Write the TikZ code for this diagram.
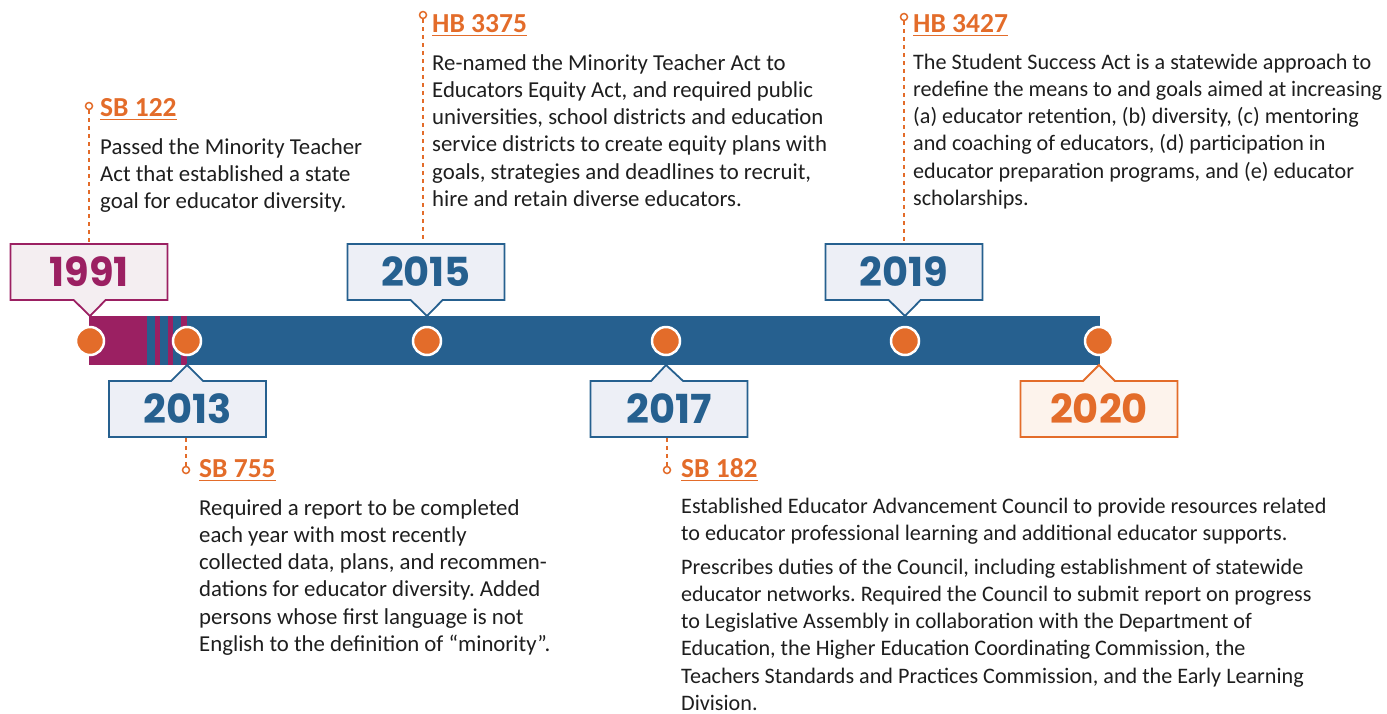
\documentclass[tikz,border=0pt]{standalone}
\usepackage{fontspec}
\setmainfont{Carlito}
\newfontfamily\yearfont{Poppins}
\usetikzlibrary{shapes.callouts}
\definecolor{tlorange}{RGB}{227,108,42}
\definecolor{tlmagenta}{RGB}{155,32,98}
\definecolor{tlblue}{RGB}{38,96,143}
\definecolor{tltext}{RGB}{30,30,30}
\definecolor{boxblue}{RGB}{237,239,246}
\definecolor{boxmagenta}{RGB}{244,238,241}
\definecolor{boxorange}{RGB}{253,243,236}
\frenchspacing

\begin{document}
\begin{tikzpicture}[x=1pt, y=-1pt,
    bodytext/.style={anchor=base west, align=left, inner sep=0pt, text=tltext,
        font=\fontsize{22.8}{27.3}\selectfont},
    narrowtext/.style={bodytext, font=\fontsize{22.15}{27.3}\selectfont},
    billlabel/.style={anchor=base west, inner sep=0pt, text=tlorange,
        font=\fontsize{27.5}{30}\selectfont\bfseries},
    billmark/.style={circle, draw=tlorange, fill=white, line width=1.5pt,
        inner sep=0pt, minimum size=7pt},
    leader/.style={draw=tlorange, line width=2.2pt, dash pattern=on 4pt off 4pt},
    yeardot/.style={circle, fill=tlorange, draw=white, line width=2.5pt,
        minimum size=28pt, inner sep=0pt},
    yearbox/.style={rectangle callout, line width=1.8pt, minimum width=157pt,
        minimum height=56pt, callout pointer width=32pt, inner sep=0pt,
        font=\fontsize{40}{40}\yearfont\bfseries}
]
    \useasboundingbox (0,0) rectangle (1387,713);

    \fill[tlblue] (89,316) rectangle (1100,365);
    \fill[tlmagenta] (89,316) rectangle (147.3,365);
    \foreach \a/\b in {155/160, 167.7/172.7, 181/186.7}
        \fill[tlmagenta] (\a,316) rectangle (\b,365);

    \foreach \x/\n in {90/1991, 187/2013, 427/2015, 666/2017, 905/2019, 1099/2020}
        \node[yeardot] (d\n) at (\x,341) {};

    \node[yearbox, draw=tlmagenta, fill=boxmagenta, text=tlmagenta,
        callout absolute pointer={(90,316)}] (c1991) at (89,272) {1991};
    \node[yearbox, draw=tlblue, fill=boxblue, text=tlblue,
        callout absolute pointer={(187,365)}] (c2013) at (187.5,409) {2013};
    \node[yearbox, draw=tlblue, fill=boxblue, text=tlblue,
        callout absolute pointer={(427,316)}] (c2015) at (426,272) {2015};
    \node[yearbox, draw=tlblue, fill=boxblue, text=tlblue,
        callout absolute pointer={(666,365)}] (c2017) at (669,409) {2017};
    \node[yearbox, draw=tlblue, fill=boxblue, text=tlblue,
        callout absolute pointer={(905,316)}] (c2019) at (904,272) {2019};
    \node[yearbox, draw=tlorange, fill=boxorange, text=tlorange,
        callout absolute pointer={(1099,365)}] (c2020) at (1099,409) {2020};

    \node[billmark] (m122) at (89,106) {};
    \node[billmark] (m3375) at (423,15) {};
    \node[billmark] (m3427) at (904,17) {};
    \node[billmark] (m755) at (186,470) {};
    \node[billmark] (m182) at (667,470) {};

    \draw[leader] (m122) -- (m122 |- c1991.north);
    \draw[leader] (m3375) -- (m3375 |- c2015.north);
    \draw[leader] (m3427) -- (m3427 |- c2019.north);
    \draw[leader] (m755 |- c2013.south) -- (m755);
    \draw[leader] (m182 |- c2017.south) -- (m182);

    \node[billlabel] (l122) at (100,116) {SB 122};
    \node[billlabel] (l3375) at (432,32) {HB 3375};
    \node[billlabel] (l3427) at (913,32) {HB 3427};
    \node[billlabel] (l755) at (199,477) {SB 755};
    \node[billlabel] (l182) at (681,477) {SB 182};
    \foreach \n in {l122, l3375, l3427, l755, l182}
        \draw[tlorange, line width=1.5pt] ([yshift=-3.5pt]\n.base west) -- ([yshift=-3.5pt]\n.base east);

    \node[bodytext] (t122) at (100,208.6) {Passed the Minority Teacher\\
        Act that established a state\\
        goal for educator diversity.};
    \node[bodytext] (t3375) at (432,206.5) {Re-named the Minority Teacher Act to\\
        Educators Equity Act, and required public\\
        universities, school districts and education\\
        service districts to create equity plans with\\
        goals, strategies and deadlines to recruit,\\
        hire and retain diverse educators.};
    \node[narrowtext] (t3427) at (913,205.5) {The Student Success Act is a statewide approach to\\
        redefine the means to and goals aimed at increasing\\
        (a) educator retention, (b) diversity, (c) mentoring\\
        and coaching of educators, (d) participation in\\
        educator preparation programs, and (e) educator\\
        scholarships.};
    \node[bodytext] (t755) at (199,651.5) {Required a report to be completed\\
        each year with most recently\\
        collected data, plans, and recommen-\\
        dations for educator diversity. Added\\
        persons whose first language is not\\
        English to the definition of “minority”.};
    \node[narrowtext] (t182) at (681,710.5) {Established Educator Advancement Council to provide resources related\\
        to educator professional learning and additional educator supports.\\[6pt]
        Prescribes duties of the Council, including establishment of statewide\\
        educator networks. Required the Council to submit report on progress\\
        to Legislative Assembly in collaboration with the Department of\\
        Education, the Higher Education Coordinating Commission, the\\
        Teachers Standards and Practices Commission, and the Early Learning\\
        Division.};
\end{tikzpicture}
\end{document}
